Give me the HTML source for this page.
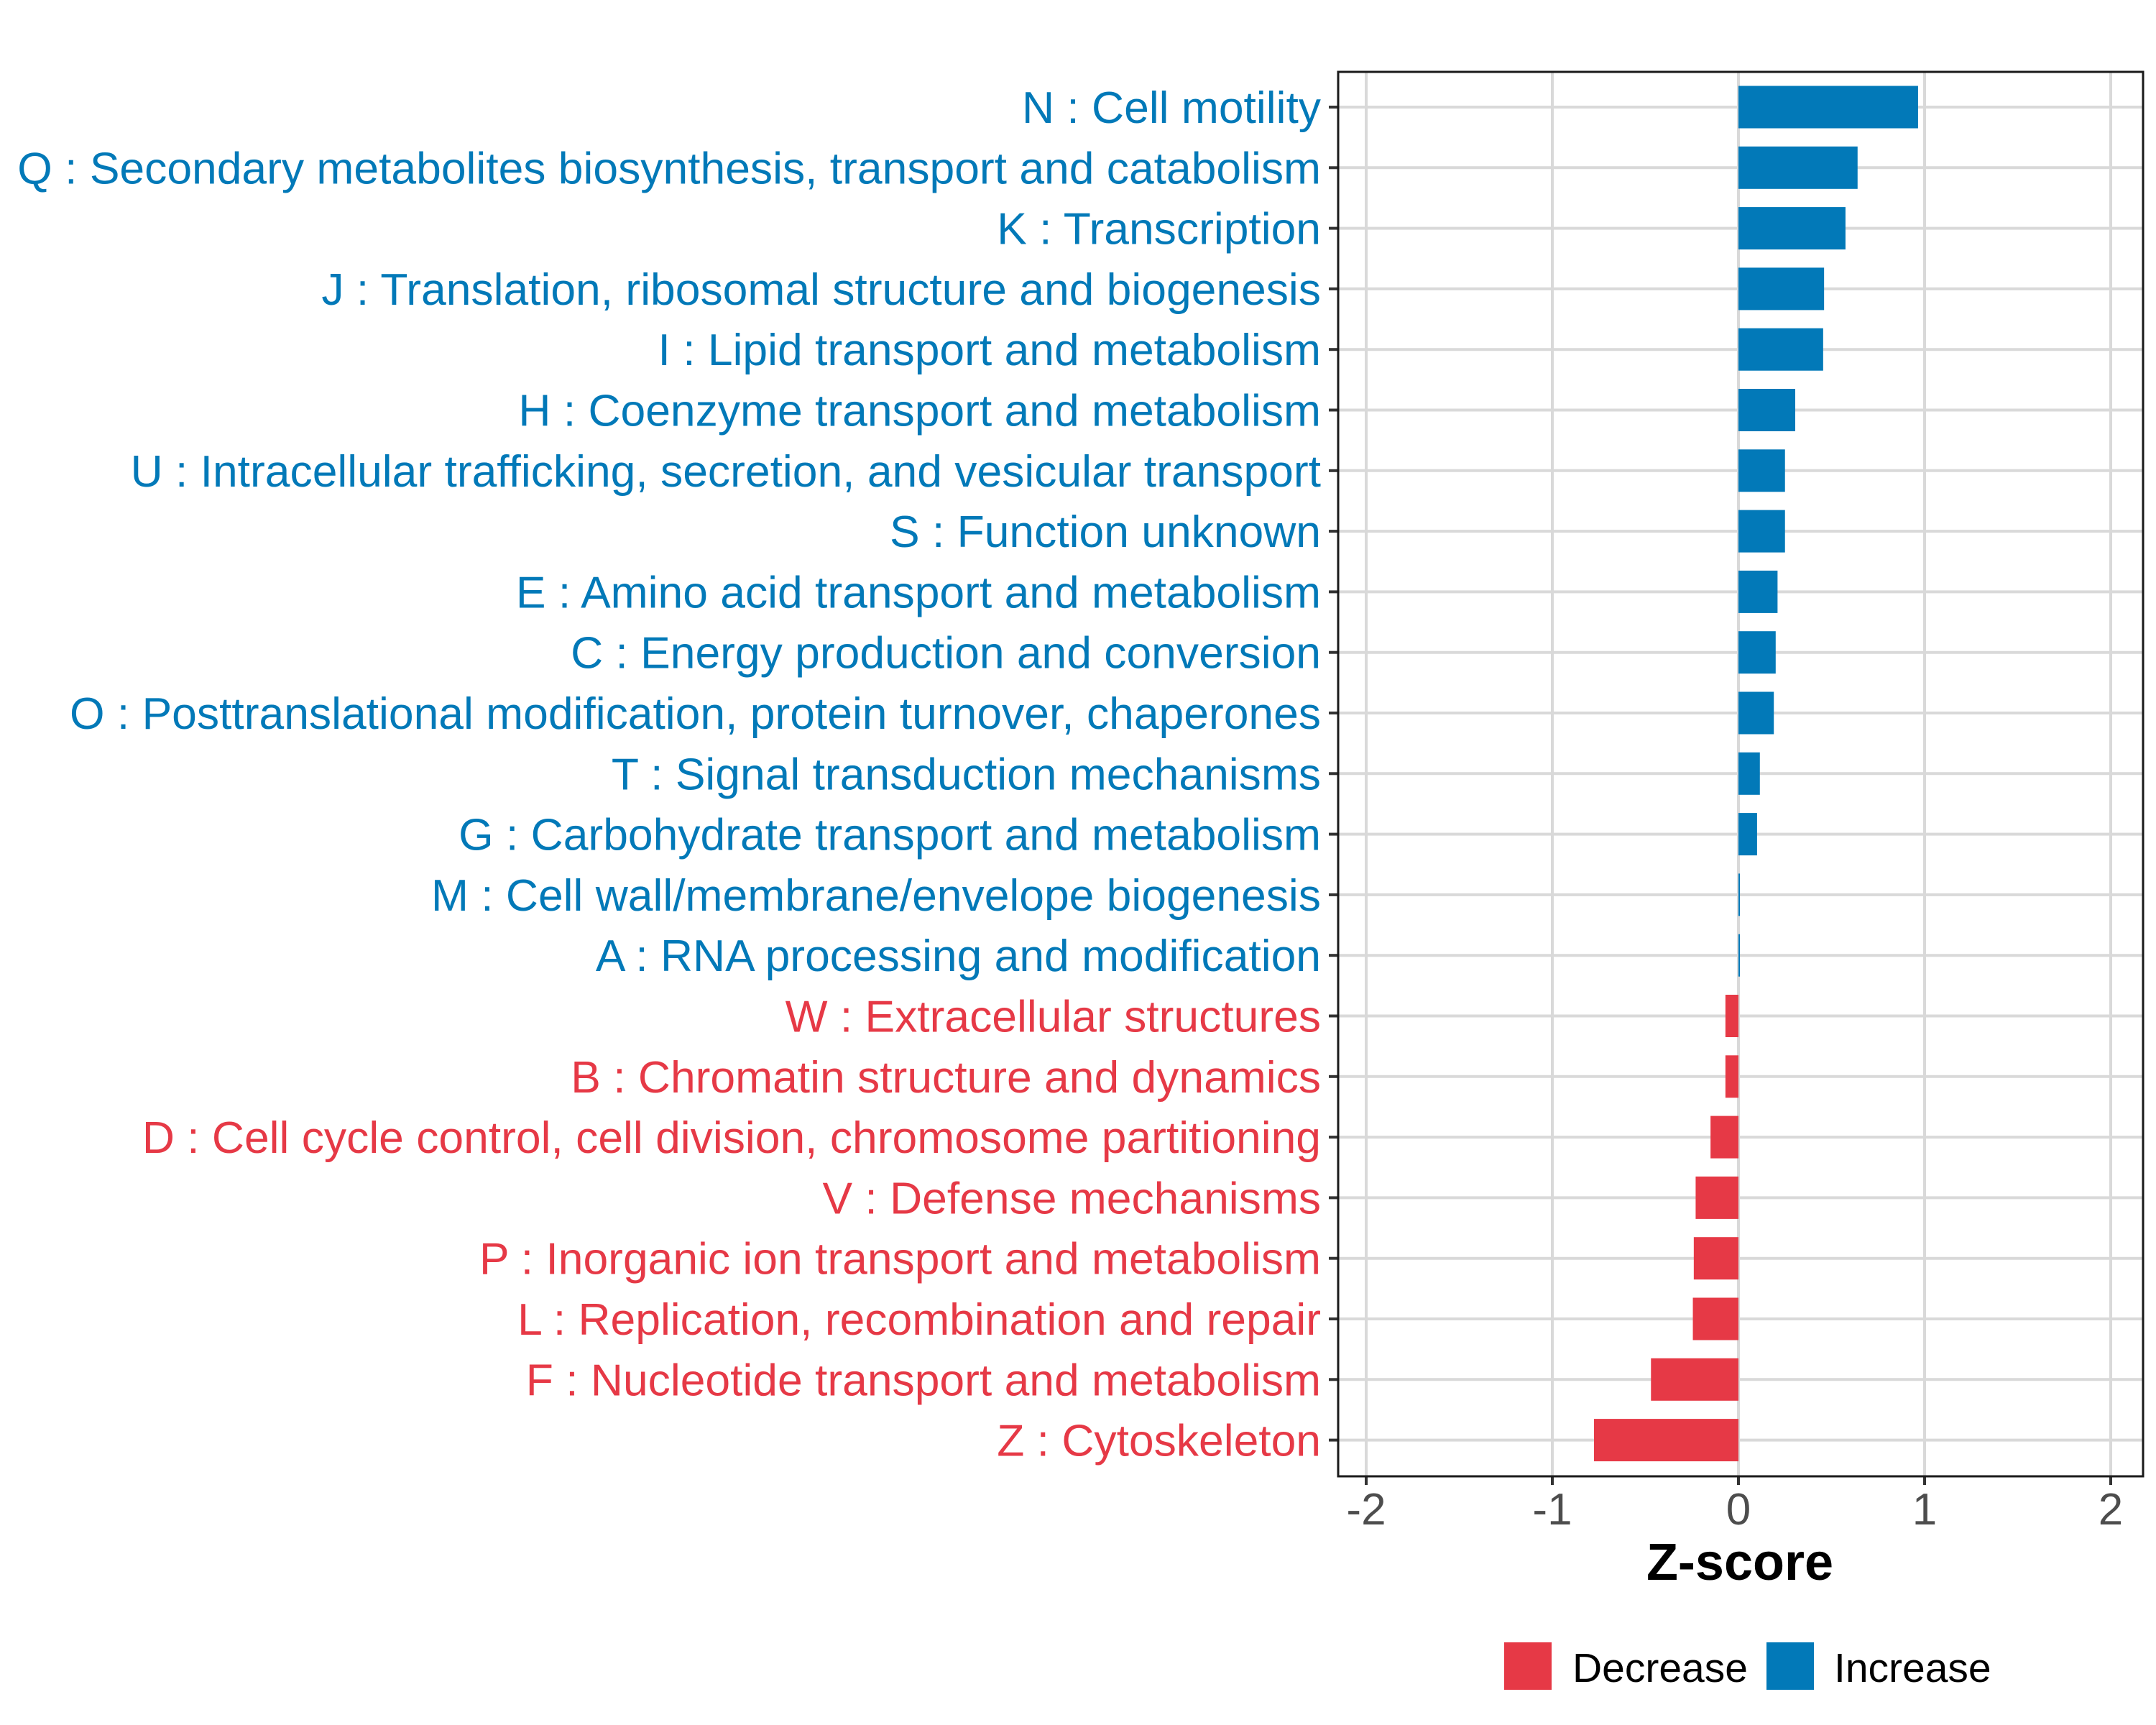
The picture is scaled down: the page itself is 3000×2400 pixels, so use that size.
<!DOCTYPE html>
<html><head><meta charset="utf-8"><style>
html,body{margin:0;padding:0;background:#fff;}
svg{display:block;font-family:"Liberation Sans",Arial,sans-serif;}
</style></head><body>
<svg id="chart" width="3000" height="2400" viewBox="0 0 3000 2400" xmlns="http://www.w3.org/2000/svg">
<rect width="3000" height="2400" fill="#fff"/>
<g id="grid"></g><g id="bars"></g><g id="ylabels"></g><g id="xaxis"></g>
<rect x="1862" y="100" width="1120" height="1954" fill="none" stroke="#1a1a1a" stroke-width="3"/>
<text x="2421" y="2198" font-size="72" font-weight="bold" text-anchor="middle" fill="#000">Z-score</text>
<g>
<rect x="2093" y="2285" width="66" height="66" fill="#E63946"/>
<text x="2188" y="2340" font-size="57" fill="#000">Decrease</text>
<rect x="2458" y="2285" width="66" height="66" fill="#0279B8"/>
<text x="2552" y="2340" font-size="57" fill="#000">Increase</text>
</g>
</svg>
<script>
const categories = ["N : Cell motility","Q : Secondary metabolites biosynthesis, transport and catabolism","K : Transcription","J : Translation, ribosomal structure and biogenesis","I : Lipid transport and metabolism","H : Coenzyme transport and metabolism","U : Intracellular trafficking, secretion, and vesicular transport","S : Function unknown","E : Amino acid transport and metabolism","C : Energy production and conversion","O : Posttranslational modification, protein turnover, chaperones","T : Signal transduction mechanisms","G : Carbohydrate transport and metabolism","M : Cell wall/membrane/envelope biogenesis","A : RNA processing and modification","W : Extracellular structures","B : Chromatin structure and dynamics","D : Cell cycle control, cell division, chromosome partitioning","V : Defense mechanisms","P : Inorganic ion transport and metabolism","L : Replication, recombination and repair","F : Nucleotide transport and metabolism","Z : Cytoskeleton"];
const zscores = [0.965,0.64,0.575,0.46,0.455,0.305,0.25,0.25,0.21,0.2,0.19,0.115,0.1,0.008,0.008,-0.07,-0.07,-0.15,-0.23,-0.24,-0.245,-0.47,-0.776];
const xTicks = [-2,-1,0,1,2];
const xTickLabels = ["-2","-1","0","1","2"];
const NS="http://www.w3.org/2000/svg";
const X0=2419, XU=259, Y0=149, DY=84.3, BH=59;
function xs(v){return X0+v*XU;}
function ys(i){return Y0+i*DY;}
function mk(tag,attrs,parent){const e=document.createElementNS(NS,tag);for(const k in attrs)e.setAttribute(k,attrs[k]);parent.appendChild(e);return e;}
const grid=document.getElementById('grid'),bars=document.getElementById('bars'),yl=document.getElementById('ylabels'),xa=document.getElementById('xaxis');
xTicks.forEach((t,i)=>{
  const g=mk('line',{x1:xs(t),x2:xs(t),y1:100,y2:2054,stroke:'#d9d9d9','stroke-width':4},grid);
  
  
  const tk=mk('line',{x1:xs(t),x2:xs(t),y1:2054,y2:2066,stroke:'#333','stroke-width':4},xa);
  
  
  const tl=mk('text',{x:xs(t),y:2121,'font-size':62,'text-anchor':'middle',fill:'#4d4d4d'},xa);
  tl.textContent=xTickLabels[i];
  
  
});
categories.forEach((c,i)=>{
  const y=ys(i),v=zscores[i],col=v>=0?'#0279B8':'#E63946';
  const g=mk('line',{x1:1862,x2:2982,y1:y,y2:y,stroke:'#d9d9d9','stroke-width':4},grid);
  
  
  const x1=Math.min(xs(0),xs(v)),w=Math.abs(xs(v)-xs(0));
  const b=mk('rect',{x:x1,y:y-BH/2,width:Math.max(w,2),height:BH,fill:col},bars);
  
  
  const tk=mk('line',{x1:1849,x2:1862,y1:y,y2:y,stroke:'#333','stroke-width':4},yl);
  
  
  const t=mk('text',{x:1838,y:y+22,'font-size':62.4,'text-anchor':'end',fill:col},yl);
  t.textContent=c;
  
  
});
</script>
</body></html>
